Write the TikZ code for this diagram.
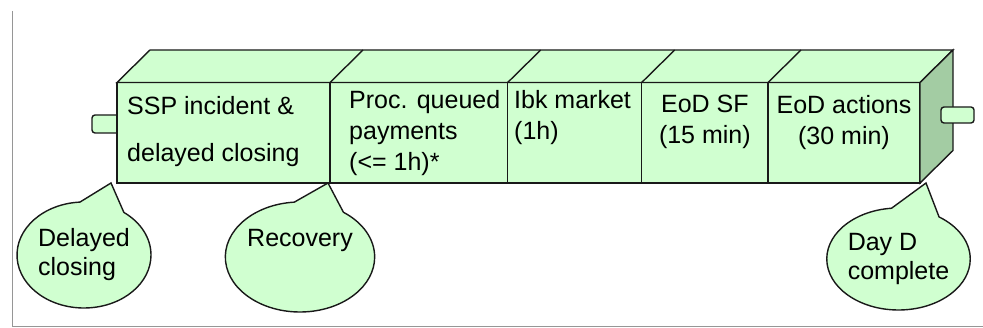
\documentclass[tikz,border=0pt]{standalone}
\usepackage{fontspec}
\setmainfont{Liberation Sans}
\usetikzlibrary{shapes.callouts,positioning}
\definecolor{boxgreen}{RGB}{208,255,208}
\definecolor{sidegreen}{RGB}{163,204,163}
\definecolor{edgegray}{RGB}{150,150,150}
\tikzset{
  face/.style={draw=black!90, line width=1.4pt, fill=boxgreen, minimum height=100.5pt,
    inner sep=0pt, outer sep=0pt, anchor=north west},
  stub/.style={draw=black!90, line width=1.4pt, fill=boxgreen, rounded corners=3pt,
    inner sep=0pt, outer sep=0pt},
  lbl/.style={inner sep=0pt, font=\fontsize{25}{31}\selectfont},
  bubble/.style={ellipse callout, draw=black!90, line width=1.4pt, fill=boxgreen,
    inner sep=0pt, align=left, callout pointer arc=40, font=\fontsize{25}{29}\selectfont},
}

\begin{document}
\begin{tikzpicture}[x=1pt,y=-1pt]
        \useasboundingbox (0,0) rectangle (983,328);
        % Frame
        \draw[edgegray, line width=1.5pt] (12.5,11) -- (12.5,326.5) -- (983,326.5);
        % Left stub (behind the bar)
        \node[stub, minimum width=28pt, minimum height=18pt] (inlet) at (106,124) {};
        % Front faces
        \node[face, minimum width=213pt] (ssp) at (117,82.5) {};
        \node[face, minimum width=177.7pt] (proc) at (ssp.north east) {};
        \node[face, minimum width=134pt] (ibk) at (proc.north east) {};
        \node[face, minimum width=126.3pt] (sf) at (ibk.north east) {};
        \node[face, minimum width=152pt] (eod) at (sf.north east) {};
        % Top
        \filldraw[draw=black!90, fill=boxgreen, line width=1.4pt] (ssp.north west) -- ++(33,-32.5)
            -- ([shift={(33,-32.5)}]eod.north east) -- (eod.north east) -- cycle;
        \foreach \f in {ssp,proc,ibk,sf}
            \draw[black!90, line width=1.4pt] (\f.north east) -- ++(33,-32.5); %segment edges
        % Side
        \filldraw[draw=black!90, fill=sidegreen, line width=1.4pt] (eod.north east) -- ++(33,-32.5)
            -- ([shift={(33,-32.5)}]eod.south east) -- (eod.south east) -- cycle;
        % Right stub
        \node[stub, minimum width=33pt, minimum height=16pt] (outlet) at (957.5,115) {};
        % Segment labels
        \node[lbl, anchor=north west, align=left] (ssptext) at ([xshift=10pt,yshift=-13.5pt]ssp.north west)
            {SSP incident \&\\[16pt]delayed closing};
        \node[lbl, anchor=north west, align=left] (proctext) at ([xshift=19pt,yshift=-7.5pt]proc.north west)
            {Proc. queued\\payments\\(<= 1h)*};
        \node[lbl, anchor=north west, align=left] (ibktext) at ([xshift=6.3pt,yshift=-7.5pt]ibk.north west)
            {Ibk market\\(1h)};
        \node[lbl, anchor=north, align=center] (sftext) at ([yshift=-12.5pt]sf.north)
            {EoD SF\\(15 min)};
        \node[lbl, anchor=north, align=center] (eodtext) at ([yshift=-12.5pt]eod.north)
            {EoD actions\\(30 min)};
        % Milestones
        \node[bubble, minimum width=134pt, minimum height=106pt,
            callout absolute pointer={([xshift=-6pt]ssp.south west)}] (delayed) at (84,255)
            {Delayed\\closing};
        \node[bubble, minimum width=136pt, minimum height=110pt,
            callout absolute pointer={([xshift=-2pt]ssp.south east)}] (recovery) at (300,257)
            {Recovery\\\strut};
        \node[bubble, minimum width=137pt, minimum height=102pt,
            callout absolute pointer={([xshift=6pt]eod.south east)}] (dayd) at (898.5,259)
            {Day D\\complete};
\end{tikzpicture}
\end{document}
